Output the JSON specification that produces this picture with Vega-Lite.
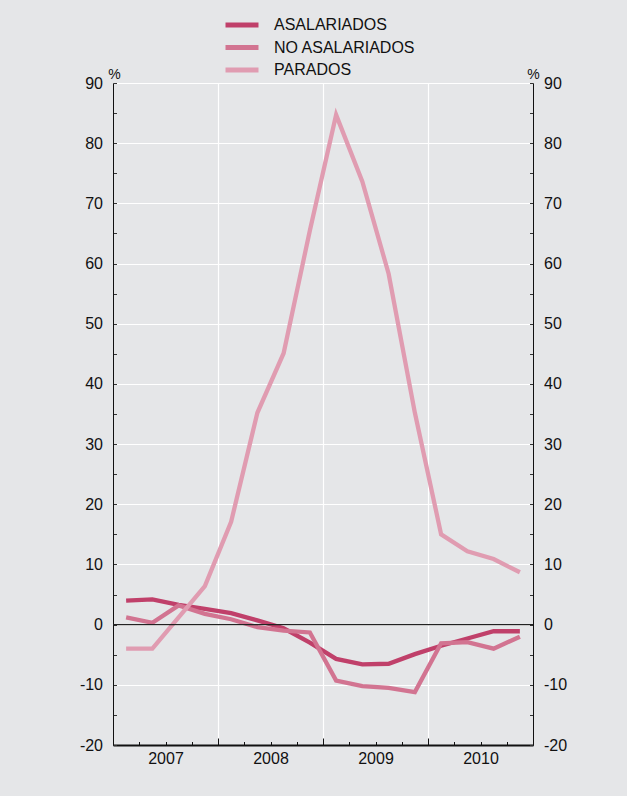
{
  "$schema": "https://vega.github.io/schema/vega-lite/v6.json",
  "width": 420,
  "height": 662,
  "autosize": {"type": "none"},
  "padding": {"left": 113, "top": 83, "right": 94, "bottom": 51},
  "background": "#e5e6e8",
  "config": {
    "view": {"stroke": null},
    "font": "Liberation Sans",
    "axis": {"labelFont": "Liberation Sans", "titleFont": "Liberation Sans"}
  },
  "data": {
    "values": [
      {"t": 2007.125, "ASALARIADOS": 4.0, "NO ASALARIADOS": 1.2, "PARADOS": -4.0},
      {"t": 2007.375, "ASALARIADOS": 4.2, "NO ASALARIADOS": 0.3, "PARADOS": -4.0},
      {"t": 2007.625, "ASALARIADOS": 3.3, "NO ASALARIADOS": 3.2, "PARADOS": 1.2},
      {"t": 2007.875, "ASALARIADOS": 2.6, "NO ASALARIADOS": 1.8, "PARADOS": 6.4},
      {"t": 2008.125, "ASALARIADOS": 1.9, "NO ASALARIADOS": 0.9, "PARADOS": 17.1},
      {"t": 2008.375, "ASALARIADOS": 0.7, "NO ASALARIADOS": -0.4, "PARADOS": 35.2},
      {"t": 2008.625, "ASALARIADOS": -0.6, "NO ASALARIADOS": -1.0, "PARADOS": 45.1},
      {"t": 2008.875, "ASALARIADOS": -3.0, "NO ASALARIADOS": -1.3, "PARADOS": 65.5},
      {"t": 2009.125, "ASALARIADOS": -5.7, "NO ASALARIADOS": -9.3, "PARADOS": 84.7},
      {"t": 2009.375, "ASALARIADOS": -6.6, "NO ASALARIADOS": -10.2, "PARADOS": 73.6},
      {"t": 2009.625, "ASALARIADOS": -6.5, "NO ASALARIADOS": -10.5, "PARADOS": 58.3},
      {"t": 2009.875, "ASALARIADOS": -4.9, "NO ASALARIADOS": -11.2, "PARADOS": 35.2},
      {"t": 2010.125, "ASALARIADOS": -3.5, "NO ASALARIADOS": -3.1, "PARADOS": 15.0},
      {"t": 2010.375, "ASALARIADOS": -2.3, "NO ASALARIADOS": -2.9, "PARADOS": 12.2},
      {"t": 2010.625, "ASALARIADOS": -1.1, "NO ASALARIADOS": -4.0, "PARADOS": 10.9},
      {"t": 2010.875, "ASALARIADOS": -1.1, "NO ASALARIADOS": -2.0, "PARADOS": 8.7}
    ]
  },
  "layer": [
    {
      "transform": [{"fold": ["ASALARIADOS", "NO ASALARIADOS", "PARADOS"], "as": ["serie", "v"]}],
      "mark": {"type": "line", "strokeWidth": 4.3, "strokeJoin": "miter", "strokeCap": "butt"},
      "encoding": {
        "x": {
          "field": "t",
          "type": "quantitative",
          "scale": {"domain": [2007, 2011], "nice": false, "zero": false},
          "axis": {
            "orient": "bottom",
            "title": null,
            "values": [2007, 2007.25, 2007.5, 2007.75, 2008, 2008.25, 2008.5, 2008.75, 2009, 2009.25, 2009.5, 2009.75, 2010, 2010.25, 2010.5, 2010.75, 2011],
            "labelExpr": "(datum.value % 1) == 0.5 ? '' + floor(datum.value) : ''",
            "labelFontSize": 16,
            "labelColor": "#111111",
            "labelPadding": 9,
            "labelOverlap": false,
            "labelFlush": false,
            "domainColor": "#111111",
            "domainWidth": 2,
            "tickColor": "#111111",
            "tickWidth": 1,
            "tickSize": {"condition": {"test": "datum.value % 1 == 0", "value": -7}, "value": -3.5},
            "grid": true,
            "gridColor": "#ffffff",
            "gridWidth": 1.2,
            "gridOpacity": {"condition": {"test": "datum.value % 1 == 0 && datum.value > 2007 && datum.value < 2011", "value": 1}, "value": 0}
          }
        },
        "y": {
          "field": "v",
          "type": "quantitative",
          "scale": {"domain": [-20, 90], "nice": false, "zero": false},
          "axis": {
            "orient": "left",
            "values": [-20, -15, -10, -5, 0, 5, 10, 15, 20, 25, 30, 35, 40, 45, 50, 55, 60, 65, 70, 75, 80, 85, 90],
            "labelExpr": "datum.value % 10 == 0 ? '' + datum.value : ''",
            "labelFontSize": 16,
            "labelColor": "#111111",
            "labelPadding": 14,
            "labelOverlap": false,
            "labelFlush": false,
            "domainColor": "#111111",
            "domainWidth": 1,
            "tickColor": "#333333",
            "tickWidth": 1,
            "tickSize": -3.5,
            "grid": true,
            "gridColor": "#ffffff",
            "gridWidth": 1.2,
            "gridOpacity": {"condition": {"test": "datum.value % 10 == 0 && datum.value > -20", "value": 1}, "value": 0},
            "title": "%",
            "titleAngle": 0,
            "titleX": 1,
            "titleY": -5,
            "titleAlign": "center",
            "titleBaseline": "alphabetic",
            "titleFontSize": 14,
            "titleFontWeight": "normal",
            "titleColor": "#111111"
          }
        },
        "color": {
          "field": "serie",
          "type": "nominal",
          "scale": {"domain": ["ASALARIADOS", "NO ASALARIADOS", "PARADOS"], "range": ["#c0406a", "#d27491", "#e09cb1"]},
          "legend": {
            "title": null,
            "orient": "none",
            "legendX": 118,
            "legendY": -69,
            "padding": 0,
            "symbolType": "M-2,0H2",
            "symbolSize": 272,
            "symbolStrokeWidth": 5,
            "labelFont": "Liberation Sans",
            "labelFontSize": 16,
            "labelColor": "#111111",
            "labelOffset": 21,
            "rowPadding": 1.5
          }
        }
      }
    },
    {
      "data": {"values": [{"z": 0}]},
      "mark": {"type": "rule", "color": "#222222", "strokeWidth": 1.2},
      "encoding": {
        "y": {
          "field": "z",
          "type": "quantitative",
          "axis": {
            "orient": "right",
            "values": [-20, -15, -10, -5, 0, 5, 10, 15, 20, 25, 30, 35, 40, 45, 50, 55, 60, 65, 70, 75, 80, 85, 90],
            "labelExpr": "datum.value % 10 == 0 ? '' + datum.value : ''",
            "labelFontSize": 16,
            "labelColor": "#111111",
            "labelPadding": 14,
            "labelOverlap": false,
            "labelFlush": false,
            "domainColor": "#111111",
            "domainWidth": 1,
            "tickColor": "#333333",
            "tickWidth": 1,
            "tickSize": -3.5,
            "grid": false,
            "title": "%",
            "titleAngle": 0,
            "titleX": 0,
            "titleY": -5,
            "titleAlign": "center",
            "titleBaseline": "alphabetic",
            "titleFontSize": 14,
            "titleFontWeight": "normal",
            "titleColor": "#111111"
          }
        }
      }
    }
  ],
  "resolve": {"axis": {"y": "independent"}}
}
